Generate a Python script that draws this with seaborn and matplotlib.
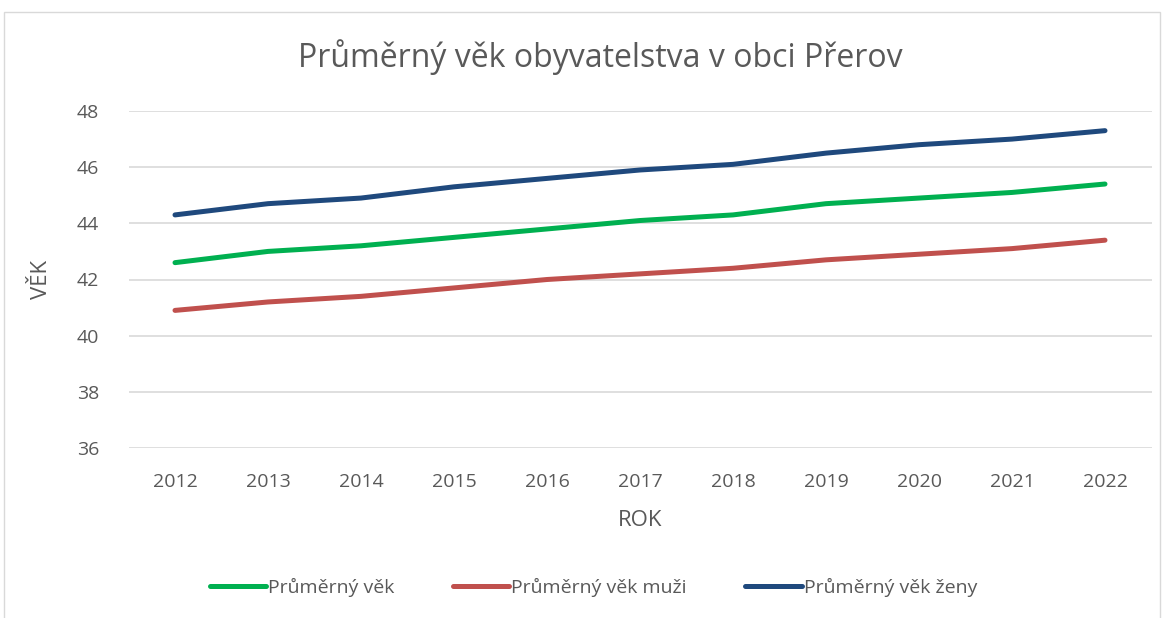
import matplotlib
matplotlib.use("Agg")
import matplotlib.pyplot as plt
import matplotlib.patches as mpatches
from matplotlib.lines import Line2D
import seaborn as sns
import pandas as pd

years = [2012, 2013, 2014, 2015, 2016, 2017, 2018, 2019, 2020, 2021, 2022]
prumer = [42.6, 43.0, 43.2, 43.5, 43.8, 44.1, 44.3, 44.7, 44.9, 45.1, 45.4]
muzi = [40.9, 41.2, 41.4, 41.7, 42.0, 42.2, 42.4, 42.7, 42.9, 43.1, 43.4]
zeny = [44.3, 44.7, 44.9, 45.3, 45.6, 45.9, 46.1, 46.5, 46.8, 47.0, 47.3]
series_names = ["Průměrný věk", "Průměrný věk muži", "Průměrný věk ženy"]
colors = ["#00B050", "#C0504D", "#1F497D"]
y_ticks = [36, 38, 40, 42, 44, 46, 48]

rows = []
for name, vals in zip(series_names, [prumer, muzi, zeny]):
    for i, (yr, v) in enumerate(zip(years, vals)):
        rows.append({"idx": i, "Rok": str(yr), "Věk": v, "Řada": name})
df = pd.DataFrame(rows)

sns.set_theme(style="white")
plt.rcParams["font.family"] = ["Open Sans", "DejaVu Sans"]

fig = plt.figure(figsize=(11.71, 6.18), dpi=100)
ax = fig.add_axes([128.5 / 1171, 1 - 448 / 618, (1151.5 - 128.5) / 1171, (448 - 111) / 618])

sns.lineplot(data=df, x="idx", y="Věk", hue="Řada", palette=colors,
             hue_order=series_names, linewidth=3.6, ax=ax, legend=False,
             solid_capstyle="round")

ax.set_xlim(-0.5, len(years) - 0.5)
ax.set_ylim(36, 48)
ax.set_xticks(range(len(years)))
ax.set_xticklabels([str(y) for y in years])
ax.set_yticks(y_ticks)
ax.set_yticklabels([str(t) for t in y_ticks])
ax.tick_params(axis="both", length=0, labelsize=14, colors="#595959")
ax.tick_params(axis="x", pad=18)
ax.tick_params(axis="y", pad=21)
ax.yaxis.grid(True, color="#D9D9D9", linewidth=1.2)
ax.set_axisbelow(True)
for s in ["left", "right", "top", "bottom"]:
    ax.spines[s].set_visible(False)

ax.set_xlabel("ROK", fontsize=16, color="#595959", labelpad=14)
ax.set_ylabel("VĚK", fontsize=16, color="#595959", labelpad=18)

fig.text(0.5 + 15 / 1171, 1 - 57 / 618, "Průměrný věk obyvatelstva v obci Přerov",
         ha="center", va="center", fontsize=23, color="#595959")

handles = [Line2D([0], [0], color=c, linewidth=3.6, solid_capstyle="round") for c in colors]
fig.legend(handles, series_names, loc="center", bbox_to_anchor=(0.5 + 8 / 1171, 1 - 587 / 618),
           ncol=3, frameon=False, fontsize=14, handlelength=2.9, handletextpad=0.1,
           columnspacing=3.0, labelcolor="#595959")

border = mpatches.Rectangle((4 / 1171, -0.05), (1160 - 4) / 1171, 1 - 12 / 618 + 0.05,
                            transform=fig.transFigure, fill=False,
                            edgecolor="#D9D9D9", linewidth=1)
fig.patches.append(border)

fig.savefig("out.png", dpi=100)
